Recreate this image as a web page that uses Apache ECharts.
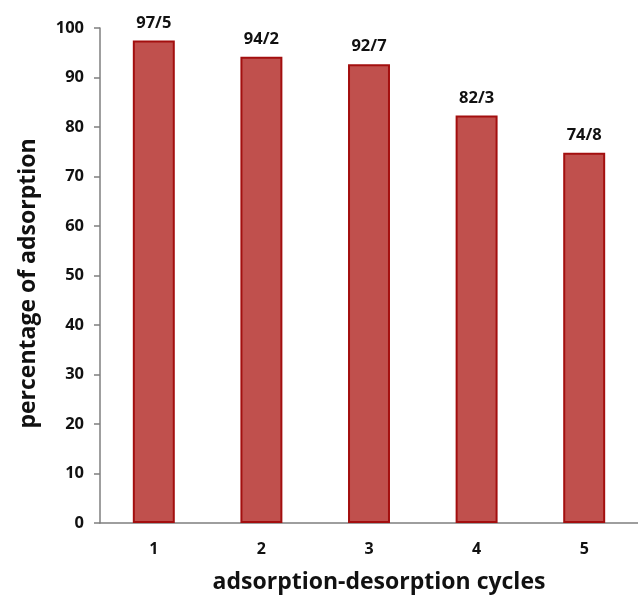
<!DOCTYPE html>
<html>
<head>
<meta charset="utf-8">
<script src="https://cdn.jsdelivr.net/npm/echarts@6/dist/echarts.min.js"></script>
<style>
html,body{margin:0;padding:0;background:#fff;}
#chart{width:638px;height:600px;}
</style>
</head>
<body>
<div id="chart"></div>
<script>
// Adsorption efficiency over repeated adsorption-desorption cycles
const cycles = ['1', '2', '3', '4', '5'];
const adsorption = [97.5, 94.2, 92.7, 82.3, 74.8];
const barLabels = ['97/5', '94/2', '92/7', '82/3', '74/8'];

const font = "'Open Sans', 'Liberation Sans', sans-serif";
const chart = echarts.init(document.getElementById('chart'));
chart.setOption({
  animation: false,
  grid: { left: 100, right: 0, top: 28, bottom: 77 },
  xAxis: {
    type: 'category',
    data: cycles,
    name: 'adsorption-desorption cycles',
    nameLocation: 'middle',
    nameGap: 48,
    nameTextStyle: { fontFamily: font, fontWeight: 'bold', fontSize: 23, color: '#111', padding: [0, 0, 0, 20] },
    axisLine: { lineStyle: { color: '#7f7f7f', width: 1.5 } },
    axisTick: { length: 6, lineStyle: { color: '#7f7f7f', width: 1.5 } },
    axisLabel: { fontFamily: font, fontWeight: 'bold', fontSize: 16, color: '#111', margin: 18 }
  },
  yAxis: {
    type: 'value',
    min: 0, max: 100, interval: 10,
    name: 'percentage of adsorption',
    nameLocation: 'middle',
    nameGap: 60,
    nameTextStyle: { fontFamily: font, fontWeight: 'bold', fontSize: 23, color: '#111', padding: [0, 16, 0, 0] },
    axisLine: { show: true, lineStyle: { color: '#7f7f7f', width: 1.5 } },
    axisTick: { show: true, length: 6, lineStyle: { color: '#7f7f7f', width: 1.5 } },
    splitLine: { show: false },
    axisLabel: { fontFamily: font, fontWeight: 'bold', fontSize: 16.5, color: '#111', margin: 16 }
  },
  series: [{
    type: 'bar',
    data: adsorption,
    barWidth: '39%',
    itemStyle: {
      color: '#c0504d',
      borderColor: '#a30f0f',
      borderWidth: 2
    },
    label: {
      show: true,
      position: 'top',
      distance: 9,
      formatter: p => barLabels[p.dataIndex],
      fontFamily: font, fontWeight: 'bold', fontSize: 16.5, color: '#111'
    }
  }]
});
</script>
</body>
</html>
